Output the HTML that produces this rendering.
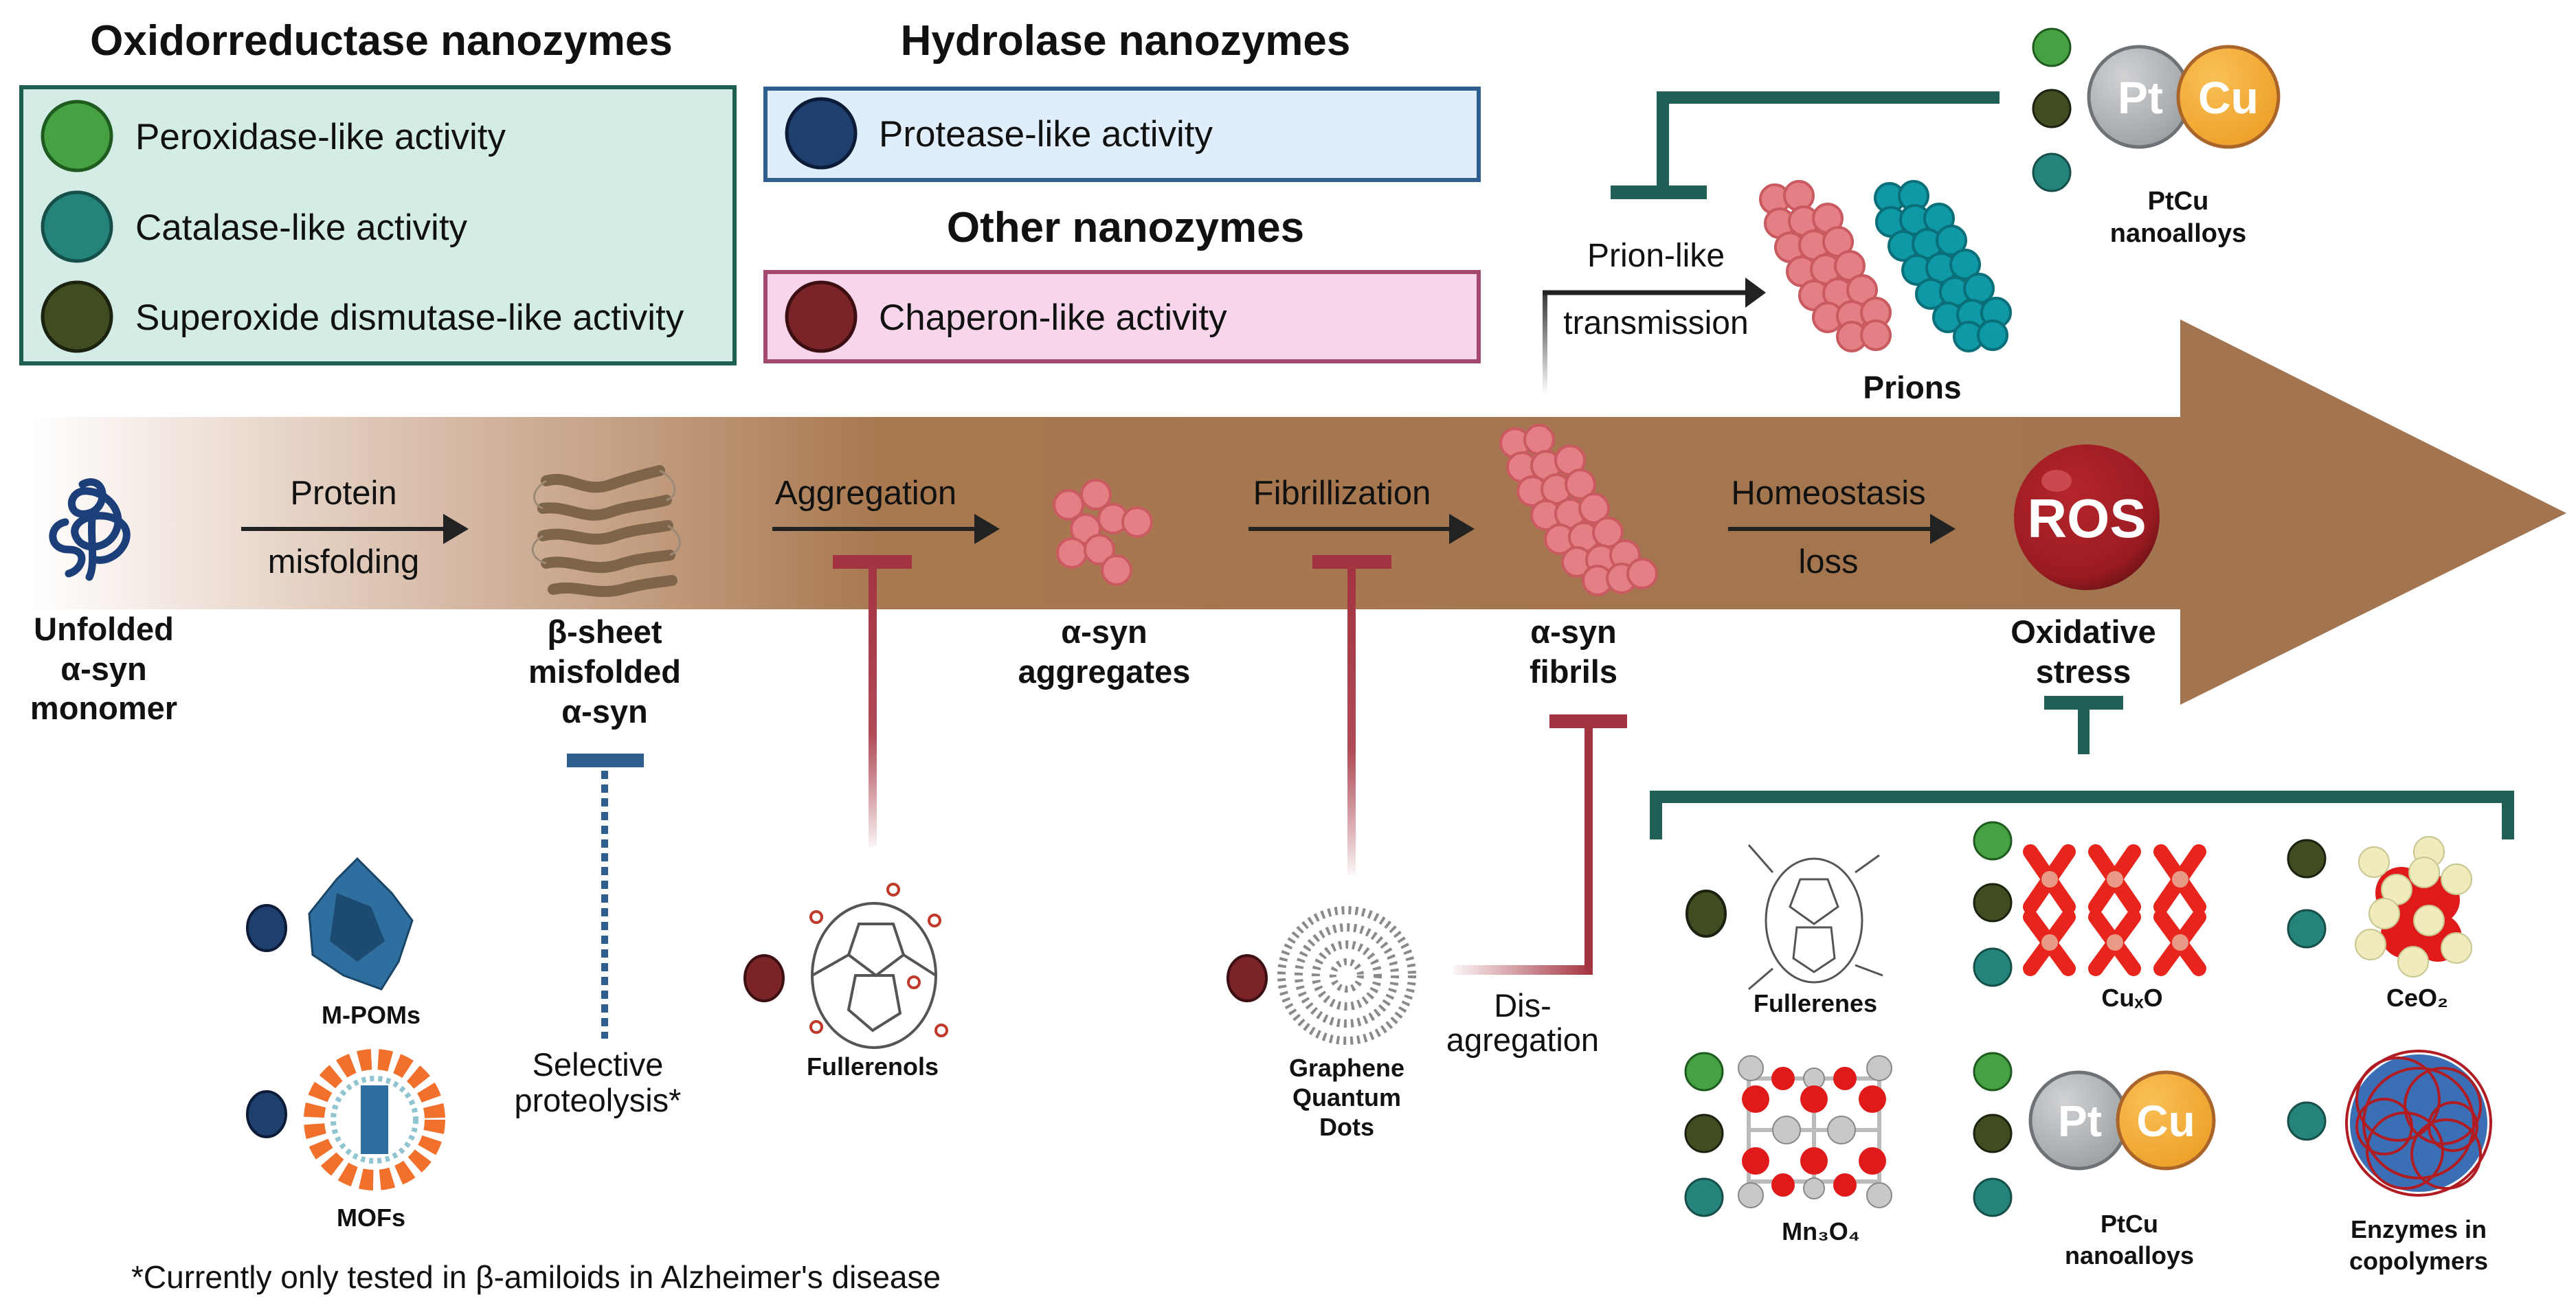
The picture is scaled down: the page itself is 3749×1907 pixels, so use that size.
<!DOCTYPE html>
<html><head><meta charset="utf-8"><style>
html,body{margin:0;padding:0;background:#fff;}
svg{display:block;}
text{font-family:"Liberation Sans",sans-serif;}
</style></head><body>
<svg width="3749" height="1907" viewBox="0 0 3749 1907" xmlns="http://www.w3.org/2000/svg">
<defs>
<linearGradient id="band" x1="0" x2="1" y1="0" y2="0">
<stop offset="0" stop-color="#fff" stop-opacity="0"/>
<stop offset="0.02" stop-color="#fdf9f7"/>
<stop offset="0.2" stop-color="#d6b9a5"/>
<stop offset="0.4" stop-color="#a8784f"/>
<stop offset="1" stop-color="#a27550"/>
</linearGradient>
<radialGradient id="ros" cx="0.4" cy="0.35" r="0.7">
<stop offset="0" stop-color="#b5262c"/><stop offset="0.8" stop-color="#9a1b21"/><stop offset="1" stop-color="#6e1317"/>
</radialGradient>
<radialGradient id="pt" cx="0.35" cy="0.3" r="0.75"><stop offset="0" stop-color="#d0d2d4"/><stop offset="1" stop-color="#9ea1a4"/></radialGradient>
<radialGradient id="cu" cx="0.35" cy="0.3" r="0.75"><stop offset="0" stop-color="#f9c055"/><stop offset="1" stop-color="#eea02a"/></radialGradient>
<linearGradient id="fadeV1" x1="0" x2="0" y1="0" y2="1"><stop offset="0" stop-color="#a33340"/><stop offset="0.6" stop-color="#b04a57"/><stop offset="1" stop-color="#a33340" stop-opacity="0.05"/></linearGradient>
<linearGradient id="fadeH" x1="0" x2="1" y1="0" y2="0"><stop offset="0" stop-color="#a33340" stop-opacity="0.05"/><stop offset="1" stop-color="#a33340"/></linearGradient>
<linearGradient id="fadeHB" x1="0" x2="1" y1="0" y2="0"><stop offset="0" stop-color="#2e5f8f" stop-opacity="0.05"/><stop offset="1" stop-color="#2e5f8f"/></linearGradient>
<linearGradient id="fadeP" x1="0" x2="0" y1="0" y2="1"><stop offset="0" stop-color="#333"/><stop offset="1" stop-color="#333" stop-opacity="0"/></linearGradient>
</defs>

<!-- Legend -->
<text x="555" y="80" font-size="62" font-weight="bold" text-anchor="middle" fill="#111">Oxidorreductase nanozymes</text>
<rect x="31" y="127" width="1038" height="402" fill="#d3ece6" stroke="#1f5f50" stroke-width="6"/>
<circle cx="112" cy="198" r="50" fill="#45a142" stroke="#1f5a1f" stroke-width="5"/>
<circle cx="112" cy="330" r="50" fill="#24837a" stroke="#164f4a" stroke-width="5"/>
<circle cx="112" cy="461" r="50" fill="#3f4d20" stroke="#1b2210" stroke-width="5"/>
<text x="197" y="217" font-size="53" fill="#111">Peroxidase-like activity</text>
<text x="197" y="349" font-size="53" fill="#111">Catalase-like activity</text>
<text x="197" y="480" font-size="53" fill="#111">Superoxide dismutase-like activity</text>

<text x="1638" y="80" font-size="62" font-weight="bold" text-anchor="middle" fill="#111">Hydrolase nanozymes</text>
<rect x="1114" y="129" width="1038" height="133" fill="#dfeefa" stroke="#2e5f8f" stroke-width="6"/>
<circle cx="1195" cy="194" r="50" fill="#1f3f6e" stroke="#0c1c38" stroke-width="5"/>
<text x="1279" y="213" font-size="53" fill="#111">Protease-like activity</text>

<text x="1638" y="352" font-size="62" font-weight="bold" text-anchor="middle" fill="#111">Other nanozymes</text>
<rect x="1114" y="396" width="1038" height="130" fill="#f7d6ec" stroke="#a5486e" stroke-width="6"/>
<circle cx="1195" cy="461" r="50" fill="#7a2428" stroke="#3e0f12" stroke-width="5"/>
<text x="1279" y="480" font-size="53" fill="#111">Chaperon-like activity</text>

<!-- Band arrow -->
<rect x="30" y="607" width="3145" height="280" fill="url(#band)"/>
<polygon points="3173,465 3735,747 3173,1026" fill="#a27550"/>

<g stroke="#222" stroke-width="6">
<line x1="351" y1="770" x2="650" y2="770"/>
<line x1="1124" y1="770" x2="1423" y2="770"/>
<line x1="1817" y1="770" x2="2114" y2="770"/>
<line x1="2515" y1="770" x2="2814" y2="770"/>
</g>
<g fill="#222">
<polygon points="645,748 682,770 645,792"/>
<polygon points="1418,748 1455,770 1418,792"/>
<polygon points="2109,748 2146,770 2109,792"/>
<polygon points="2809,748 2846,770 2809,792"/>
</g>
<g font-size="49" fill="#111" text-anchor="middle">
<text x="500" y="734">Protein</text>
<text x="500" y="834">misfolding</text>
<text x="1260" y="734">Aggregation</text>
<text x="1953" y="734">Fibrillization</text>
<text x="2661" y="734">Homeostasis</text>
<text x="2661" y="834">loss</text>
</g>

<path d="M120,705 C150,690 160,730 135,745 C100,760 95,720 120,715 C150,712 180,740 170,770 C160,800 120,805 110,780 C100,755 150,740 175,760 C200,780 170,820 140,815 M95,760 C70,765 70,800 100,800 C130,800 120,830 100,835 M135,745 C130,780 140,820 130,840" fill="none" stroke="#1c3f7a" stroke-width="11" stroke-linecap="round"/>

<g fill="none" stroke="#7e6448" stroke-width="16" stroke-linecap="round">
<path d="M795,700 C830,690 850,720 890,705 C920,695 940,690 960,685"/>
<path d="M790,740 C830,735 850,760 890,745 C920,735 945,735 970,728"/>
<path d="M790,780 C830,770 855,795 895,780 C925,770 945,770 972,765"/>
<path d="M795,820 C830,812 860,835 900,822 C930,812 950,812 975,808"/>
<path d="M805,858 C840,850 865,868 905,858 C935,850 955,848 978,845"/>
</g>
<g fill="none" stroke="#9c8a76" stroke-width="3">
<path d="M795,700 C770,715 775,735 790,740"/><path d="M960,685 C990,700 985,725 970,728"/>
<path d="M790,780 C765,795 775,815 795,820"/><path d="M972,765 C995,780 995,800 975,808"/>
</g>

<g fill="#e47f85" stroke="#c95a60" stroke-width="4">
<circle cx="1555" cy="735" r="21"/><circle cx="1595" cy="720" r="21"/><circle cx="1580" cy="770" r="21"/>
<circle cx="1620" cy="755" r="21"/><circle cx="1655" cy="760" r="21"/><circle cx="1560" cy="805" r="21"/>
<circle cx="1600" cy="800" r="21"/><circle cx="1625" cy="830" r="21"/>
</g>

<g fill="#e47f85" stroke="#c95a60" stroke-width="4">
<circle cx="2205" cy="645" r="21"/><circle cx="2240" cy="640" r="21"/><circle cx="2215" cy="680" r="21"/><circle cx="2250" cy="678" r="21"/><circle cx="2285" cy="670" r="21"/>
<circle cx="2230" cy="715" r="21"/><circle cx="2265" cy="712" r="21"/><circle cx="2300" cy="705" r="21"/>
<circle cx="2250" cy="750" r="21"/><circle cx="2285" cy="748" r="21"/><circle cx="2320" cy="740" r="21"/>
<circle cx="2270" cy="785" r="21"/><circle cx="2305" cy="782" r="21"/><circle cx="2340" cy="775" r="21"/>
<circle cx="2295" cy="818" r="21"/><circle cx="2330" cy="815" r="21"/><circle cx="2365" cy="808" r="21"/>
<circle cx="2325" cy="845" r="21"/><circle cx="2360" cy="842" r="21"/><circle cx="2390" cy="835" r="21"/>
</g>

<circle cx="3037" cy="753" r="106" fill="url(#ros)"/>
<ellipse cx="2993" cy="700" rx="22" ry="16" fill="#c9494e"/>
<text x="3037" y="782" font-size="80" font-weight="bold" fill="#fff" text-anchor="middle">ROS</text>

<g font-size="47" font-weight="bold" fill="#111" text-anchor="middle">
<text x="151" y="932">Unfolded</text><text x="151" y="990">α-syn</text><text x="151" y="1047">monomer</text>
<text x="880" y="936">β-sheet</text><text x="880" y="994">misfolded</text><text x="880" y="1052">α-syn</text>
<text x="1607" y="936">α-syn</text><text x="1607" y="994">aggregates</text>
<text x="2290" y="936">α-syn</text><text x="2290" y="994">fibrils</text>
<text x="3032" y="936">Oxidative</text><text x="3032" y="994">stress</text>
</g>

<rect x="2245" y="424" width="7" height="150" fill="url(#fadeP)"/>
<line x1="2245" y1="426" x2="2545" y2="426" stroke="#222" stroke-width="7"/>
<polygon points="2540,404 2570,426 2540,448" fill="#222"/>
<text x="2410" y="388" font-size="48" text-anchor="middle" fill="#111">Prion-like</text>
<text x="2410" y="486" font-size="48" text-anchor="middle" fill="#111">transmission</text>
<g fill="#e47f85" stroke="#c95a60" stroke-width="4">
<circle cx="2583" cy="290" r="21"/><circle cx="2618" cy="285" r="21"/><circle cx="2590" cy="325" r="21"/><circle cx="2625" cy="322" r="21"/><circle cx="2660" cy="318" r="21"/>
<circle cx="2605" cy="360" r="21"/><circle cx="2640" cy="357" r="21"/><circle cx="2675" cy="352" r="21"/>
<circle cx="2622" cy="395" r="21"/><circle cx="2657" cy="392" r="21"/><circle cx="2692" cy="387" r="21"/>
<circle cx="2640" cy="430" r="21"/><circle cx="2675" cy="427" r="21"/><circle cx="2710" cy="422" r="21"/>
<circle cx="2660" cy="462" r="21"/><circle cx="2695" cy="460" r="21"/><circle cx="2730" cy="455" r="21"/>
<circle cx="2695" cy="490" r="21"/><circle cx="2730" cy="488" r="21"/>
</g>
<g fill="#0f99a6" stroke="#0a6f78" stroke-width="4">
<circle cx="2750" cy="288" r="21"/><circle cx="2785" cy="285" r="21"/><circle cx="2752" cy="323" r="21"/><circle cx="2787" cy="320" r="21"/><circle cx="2822" cy="318" r="21"/>
<circle cx="2770" cy="358" r="21"/><circle cx="2805" cy="355" r="21"/><circle cx="2840" cy="350" r="21"/>
<circle cx="2790" cy="393" r="21"/><circle cx="2825" cy="390" r="21"/><circle cx="2860" cy="385" r="21"/>
<circle cx="2810" cy="428" r="21"/><circle cx="2845" cy="425" r="21"/><circle cx="2880" cy="420" r="21"/>
<circle cx="2835" cy="462" r="21"/><circle cx="2870" cy="458" r="21"/><circle cx="2905" cy="455" r="21"/>
<circle cx="2865" cy="490" r="21"/><circle cx="2900" cy="488" r="21"/>
</g>
<text x="2783" y="580" font-size="46" font-weight="bold" text-anchor="middle" fill="#111">Prions</text>

<path d="M2910,142 H2420 V280" fill="none" stroke="#1f5f55" stroke-width="18"/>
<rect x="2344" y="270" width="140" height="20" fill="#1f5f55"/>
<circle cx="2986" cy="69" r="27" fill="#45a142" stroke="#1f5a1f" stroke-width="3"/>
<circle cx="2986" cy="158" r="27" fill="#3f4d20" stroke="#1b2210" stroke-width="3"/>
<circle cx="2986" cy="251" r="27" fill="#24837a" stroke="#164f4a" stroke-width="3"/>
<circle cx="3113" cy="141" r="73" fill="url(#pt)" stroke="#6e7276" stroke-width="5"/>
<circle cx="3243" cy="141" r="73" fill="url(#cu)" stroke="#a9652a" stroke-width="5"/>
<text x="3115" y="165" font-size="66" font-weight="bold" fill="#fff" text-anchor="middle">Pt</text>
<text x="3243" y="165" font-size="66" font-weight="bold" fill="#fff" text-anchor="middle">Cu</text>
<text x="3170" y="305" font-size="38" font-weight="bold" fill="#111" text-anchor="middle">PtCu</text>
<text x="3170" y="352" font-size="38" font-weight="bold" fill="#111" text-anchor="middle">nanoalloys</text>

<rect x="1212" y="808" width="115" height="20" fill="#a33340"/>
<rect x="1264" y="818" width="12" height="415" fill="url(#fadeV1)"/>
<rect x="1910" y="808" width="115" height="20" fill="#a33340"/>
<rect x="1961" y="818" width="12" height="455" fill="url(#fadeV1)"/>
<rect x="2255" y="1040" width="113" height="20" fill="#a33340"/>
<path d="M2312,1050 V1411" stroke="#a33340" stroke-width="12" fill="none"/>
<rect x="2115" y="1405" width="203" height="14" fill="url(#fadeH)"/>
<text x="2216" y="1480" font-size="47" text-anchor="middle" fill="#111">Dis-</text>
<text x="2216" y="1530" font-size="47" text-anchor="middle" fill="#111">agregation</text>

<rect x="825" y="1097" width="112" height="20" fill="#2e5f8f"/>
<line x1="880" y1="1122" x2="880" y2="1512" stroke="#2e5f8f" stroke-width="10" stroke-dasharray="12,8"/>
<line x1="693" y1="1508" x2="885" y2="1508" stroke="url(#fadeHB)" stroke-width="18" stroke-dasharray="3,5"/>
<text x="870" y="1566" font-size="47" text-anchor="middle" fill="#111">Selective</text>
<text x="870" y="1618" font-size="47" text-anchor="middle" fill="#111">proteolysis*</text>

<ellipse cx="388" cy="1351" rx="28" ry="33" fill="#1f3f6e" stroke="#0c1c38" stroke-width="4"/>
<polygon points="520,1250 570,1300 600,1340 580,1400 555,1440 500,1420 455,1390 450,1330 490,1280" fill="#2f6f9f" stroke="#1a4566" stroke-width="3"/>
<polygon points="490,1300 540,1320 560,1370 520,1400 480,1370" fill="#1d4a70"/>
<text x="540" y="1490" font-size="36" font-weight="bold" text-anchor="middle" fill="#111">M-POMs</text>
<ellipse cx="388" cy="1622" rx="28" ry="33" fill="#1f3f6e" stroke="#0c1c38" stroke-width="4"/>
<circle cx="545" cy="1630" r="88" fill="none" stroke="#f0702c" stroke-width="30" stroke-dasharray="18,10"/>
<circle cx="545" cy="1630" r="60" fill="none" stroke="#8fc4d0" stroke-width="8" stroke-dasharray="6,6"/>
<rect x="525" y="1580" width="40" height="100" fill="#2f6f9f"/>
<text x="540" y="1785" font-size="36" font-weight="bold" text-anchor="middle" fill="#111">MOFs</text>

<ellipse cx="1112" cy="1424" rx="28" ry="33" fill="#7a2428" stroke="#3e0f12" stroke-width="4"/>
<g fill="none" stroke="#555" stroke-width="4">
<ellipse cx="1272" cy="1420" rx="90" ry="105"/>
<polygon points="1250,1345 1300,1345 1315,1390 1275,1420 1235,1390"/>
<polygon points="1245,1420 1300,1420 1310,1475 1270,1500 1235,1470"/>
<line x1="1182" y1="1420" x2="1235" y2="1390"/><line x1="1362" y1="1420" x2="1315" y2="1390"/>
</g>
<g fill="none" stroke="#c0392b" stroke-width="4"><circle cx="1300" cy="1295" r="8"/><circle cx="1360" cy="1340" r="8"/><circle cx="1188" cy="1335" r="8"/><circle cx="1370" cy="1500" r="8"/><circle cx="1188" cy="1495" r="8"/><circle cx="1330" cy="1430" r="8"/></g>
<text x="1270" y="1565" font-size="36" font-weight="bold" text-anchor="middle" fill="#111">Fullerenols</text>

<ellipse cx="1815" cy="1424" rx="28" ry="33" fill="#7a2428" stroke="#3e0f12" stroke-width="4"/>
<circle cx="1960" cy="1420" r="95" fill="none" stroke="#8a8a8a" stroke-width="12" stroke-dasharray="4,6"/>
<circle cx="1960" cy="1420" r="70" fill="none" stroke="#8a8a8a" stroke-width="12" stroke-dasharray="4,6"/>
<circle cx="1960" cy="1420" r="45" fill="none" stroke="#8a8a8a" stroke-width="12" stroke-dasharray="4,6"/>
<circle cx="1960" cy="1420" r="20" fill="none" stroke="#8a8a8a" stroke-width="10" stroke-dasharray="4,6"/>
<text x="1960" y="1567" font-size="36" font-weight="bold" text-anchor="middle" fill="#111">Graphene</text>
<text x="1960" y="1610" font-size="36" font-weight="bold" text-anchor="middle" fill="#111">Quantum</text>
<text x="1960" y="1653" font-size="36" font-weight="bold" text-anchor="middle" fill="#111">Dots</text>

<rect x="2975" y="1013" width="115" height="20" fill="#1f5f55"/>
<rect x="3024" y="1023" width="17" height="75" fill="#1f5f55"/>
<path d="M2410,1222 V1160 H3650 V1222" fill="none" stroke="#1f5f55" stroke-width="18"/>

<ellipse cx="2483" cy="1330" rx="28" ry="33" fill="#3f4d20" stroke="#1b2210" stroke-width="4"/>
<g fill="none" stroke="#555" stroke-width="3">
<ellipse cx="2640" cy="1340" rx="70" ry="90"/>
<polygon points="2620,1280 2660,1280 2675,1320 2640,1345 2605,1320"/>
<polygon points="2615,1350 2665,1350 2670,1395 2640,1415 2610,1395"/>
<line x1="2580" y1="1270" x2="2545" y2="1230"/><line x1="2700" y1="1270" x2="2735" y2="1245"/><line x1="2700" y1="1405" x2="2740" y2="1420"/><line x1="2580" y1="1410" x2="2545" y2="1440"/>
</g>
<text x="2642" y="1473" font-size="36" font-weight="bold" text-anchor="middle" fill="#111">Fullerenes</text>

<circle cx="2900" cy="1224" r="27" fill="#45a142" stroke="#1f5a1f" stroke-width="3"/>
<circle cx="2900" cy="1314" r="27" fill="#3f4d20" stroke="#1b2210" stroke-width="3"/>
<circle cx="2900" cy="1408" r="27" fill="#24837a" stroke="#164f4a" stroke-width="3"/>
<g stroke="#e8251c" stroke-width="22" stroke-linecap="round">
<path d="M2955,1240 L3010,1320 M3010,1240 L2955,1320 M3050,1240 L3105,1320 M3105,1240 L3050,1320 M3145,1240 L3200,1320 M3200,1240 L3145,1320"/>
<path d="M2955,1335 L3010,1410 M3010,1335 L2955,1410 M3050,1335 L3105,1410 M3105,1335 L3050,1410 M3145,1335 L3200,1410 M3200,1335 L3145,1410"/>
</g>
<g fill="#e99a86"><circle cx="2983" cy="1280" r="12"/><circle cx="3078" cy="1280" r="12"/><circle cx="3173" cy="1280" r="12"/><circle cx="2983" cy="1372" r="12"/><circle cx="3078" cy="1372" r="12"/><circle cx="3173" cy="1372" r="12"/></g>
<text x="3103" y="1465" font-size="36" font-weight="bold" text-anchor="middle" fill="#111">CuₓO</text>

<circle cx="3357" cy="1250" r="27" fill="#3f4d20" stroke="#1b2210" stroke-width="3"/>
<circle cx="3357" cy="1352" r="27" fill="#24837a" stroke="#164f4a" stroke-width="3"/>
<g fill="#e01a1a"><circle cx="3495" cy="1300" r="38"/><circle cx="3545" cy="1310" r="35"/><circle cx="3500" cy="1360" r="35"/><circle cx="3548" cy="1365" r="35"/></g>
<g fill="#efebbd" stroke="#c9c58f" stroke-width="2"><circle cx="3455" cy="1255" r="22"/><circle cx="3535" cy="1240" r="22"/><circle cx="3575" cy="1280" r="22"/><circle cx="3488" cy="1295" r="22"/><circle cx="3528" cy="1270" r="22"/><circle cx="3470" cy="1330" r="22"/><circle cx="3535" cy="1340" r="22"/><circle cx="3450" cy="1375" r="22"/><circle cx="3575" cy="1380" r="22"/><circle cx="3512" cy="1400" r="22"/></g>
<text x="3518" y="1465" font-size="36" font-weight="bold" text-anchor="middle" fill="#111">CeO₂</text>

<circle cx="2480" cy="1560" r="27" fill="#45a142" stroke="#1f5a1f" stroke-width="3"/>
<circle cx="2480" cy="1650" r="27" fill="#3f4d20" stroke="#1b2210" stroke-width="3"/>
<circle cx="2480" cy="1743" r="27" fill="#24837a" stroke="#164f4a" stroke-width="3"/>
<g stroke="#bbb" stroke-width="6"><rect x="2545" y="1570" width="190" height="150" fill="none"/><line x1="2545" y1="1645" x2="2735" y2="1645"/><line x1="2640" y1="1570" x2="2640" y2="1720"/></g>
<g fill="#c8c8c8" stroke="#888" stroke-width="2"><circle cx="2548" cy="1555" r="18"/><circle cx="2735" cy="1555" r="18"/><circle cx="2548" cy="1740" r="18"/><circle cx="2735" cy="1740" r="18"/><circle cx="2600" cy="1645" r="20"/><circle cx="2680" cy="1645" r="20"/><circle cx="2640" cy="1570" r="15"/><circle cx="2640" cy="1730" r="15"/></g>
<g fill="#e01a1a"><circle cx="2555" cy="1600" r="20"/><circle cx="2640" cy="1600" r="20"/><circle cx="2725" cy="1600" r="20"/><circle cx="2555" cy="1690" r="20"/><circle cx="2640" cy="1690" r="20"/><circle cx="2725" cy="1690" r="20"/><circle cx="2595" cy="1570" r="17"/><circle cx="2685" cy="1570" r="17"/><circle cx="2595" cy="1725" r="17"/><circle cx="2685" cy="1725" r="17"/></g>
<text x="2650" y="1805" font-size="36" font-weight="bold" text-anchor="middle" fill="#111">Mn₃O₄</text>

<circle cx="2900" cy="1560" r="27" fill="#45a142" stroke="#1f5a1f" stroke-width="3"/>
<circle cx="2900" cy="1650" r="27" fill="#3f4d20" stroke="#1b2210" stroke-width="3"/>
<circle cx="2900" cy="1743" r="27" fill="#24837a" stroke="#164f4a" stroke-width="3"/>
<circle cx="3025" cy="1631" r="70" fill="url(#pt)" stroke="#6e7276" stroke-width="5"/>
<circle cx="3152" cy="1631" r="70" fill="url(#cu)" stroke="#a9652a" stroke-width="5"/>
<text x="3027" y="1654" font-size="64" font-weight="bold" fill="#fff" text-anchor="middle">Pt</text>
<text x="3152" y="1654" font-size="64" font-weight="bold" fill="#fff" text-anchor="middle">Cu</text>
<text x="3099" y="1794" font-size="36" font-weight="bold" text-anchor="middle" fill="#111">PtCu</text>
<text x="3099" y="1840" font-size="36" font-weight="bold" text-anchor="middle" fill="#111">nanoalloys</text>

<circle cx="3357" cy="1632" r="27" fill="#24837a" stroke="#164f4a" stroke-width="3"/>
<circle cx="3520" cy="1635" r="100" fill="#3a6fb5"/>
<g fill="none" stroke="#b01c22" stroke-width="4">
<circle cx="3520" cy="1635" r="105"/><circle cx="3490" cy="1600" r="60"/><circle cx="3555" cy="1610" r="55"/><circle cx="3500" cy="1675" r="55"/><circle cx="3560" cy="1680" r="50"/><circle cx="3520" cy="1635" r="80"/><circle cx="3470" cy="1640" r="40"/><circle cx="3570" cy="1640" r="35"/>
</g>
<text x="3520" y="1802" font-size="36" font-weight="bold" text-anchor="middle" fill="#111">Enzymes in</text>
<text x="3520" y="1848" font-size="36" font-weight="bold" text-anchor="middle" fill="#111">copolymers</text>

<text x="191" y="1875" font-size="46" fill="#111">*Currently only tested in β-amiloids in Alzheimer's disease</text>
</svg>
</body></html>
